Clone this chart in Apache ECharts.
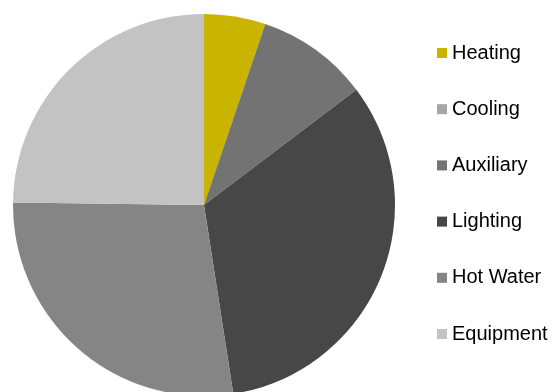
<!DOCTYPE html>
<html><head><meta charset="utf-8">
<script src="https://cdn.jsdelivr.net/npm/echarts@6/dist/echarts.min.js"></script>
<style>html,body{margin:0;padding:0;background:#fff}#c{width:556px;height:392px}</style>
</head><body><div id="c"></div>
<script>
const categories = ["Heating","Cooling","Auxiliary","Lighting","Hot Water","Equipment"];
const values = [5.2, 0, 9.5, 32.85, 27.65, 24.8];
const colors = ["#c9b400","#a6a6a6","#737373","#474747","#858585","#c3c3c3"];

const chart = echarts.init(document.getElementById('c'), null, {renderer:'canvas'});
chart.setOption({
  animation:false,
  color: colors,
  legend:{
    orient:'vertical', left:437, top:43, padding:0,
    icon:'rect', itemWidth:10, itemHeight:10, itemGap:36.2,
    textStyle:{fontFamily:'Liberation Sans, Arial, sans-serif', fontSize:20, lineHeight:20, color:'#000', padding:0},
    data: categories
  },
  series:[{
    type:'pie', center:[204,205], radius:191, startAngle:90, clockwise:true,
    label:{show:false}, labelLine:{show:false},
    itemStyle:{borderWidth:0},
    emphasis:{disabled:true},
    data: categories.map((n,i)=>({name:n, value:values[i]}))
  }]
});
</script></body></html>
